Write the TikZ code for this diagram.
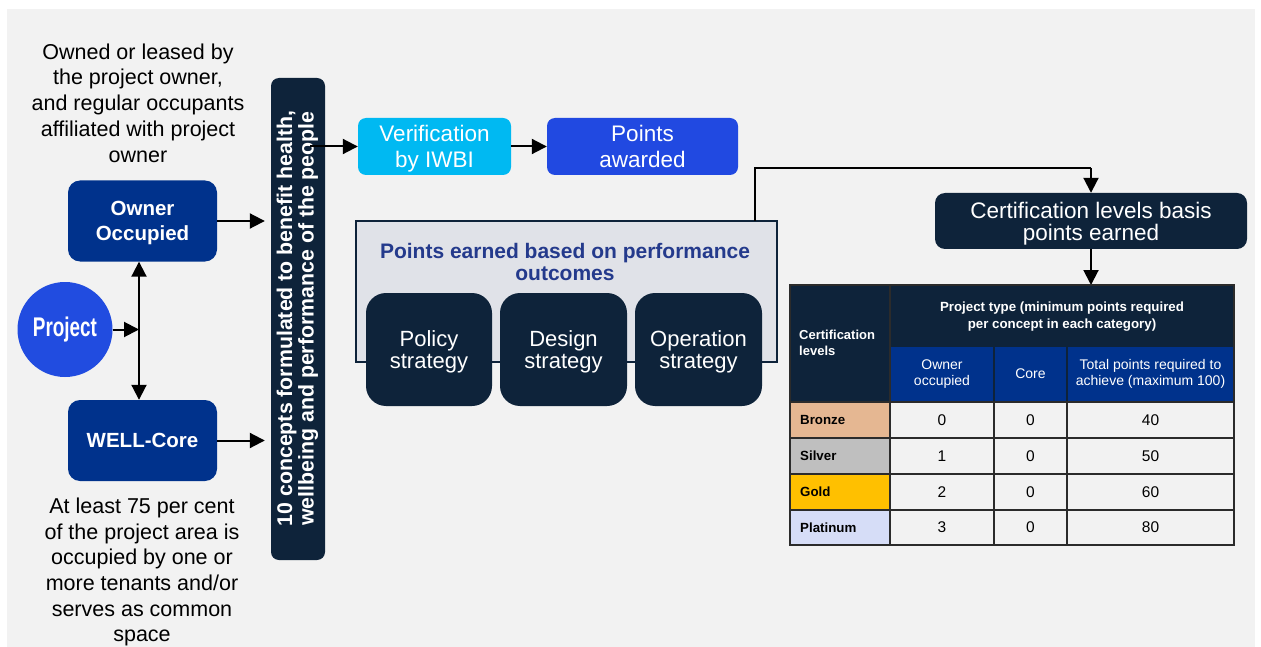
\documentclass[tikz,border=0pt]{standalone}
\usepackage{fontspec}
\setmainfont{Liberation Sans}
\usetikzlibrary{arrows.meta}
\definecolor{bggrey}{HTML}{F2F2F2}
\definecolor{navy}{HTML}{0E233A}
\definecolor{royal}{HTML}{00328C}
\definecolor{projblue}{HTML}{214CE0}
\definecolor{cyanbox}{HTML}{00B9F2}
\definecolor{pablue}{HTML}{2149E1}
\definecolor{pefill}{HTML}{E0E2E8}
\definecolor{petitle}{HTML}{243A8C}
\definecolor{bronze}{HTML}{E5B792}
\definecolor{silver}{HTML}{BFBFBF}
\definecolor{gold}{HTML}{FFC000}
\definecolor{platinum}{HTML}{D6DDF7}
\definecolor{gridc}{HTML}{2B2B2B}
\begin{document}
\begin{tikzpicture}[x=1pt,y=-1pt,
  tip/.tip={Triangle[length=15pt,width=15pt]},
  arr/.style={line width=2pt,-tip},
  plain/.style={align=center,inner sep=0pt,text=black,font=\fontsize{21.5}{25.7}\selectfont},
  bluebox/.style={fill=royal,rounded corners=12pt,align=center,inner sep=0pt,text=white,text depth=0pt,
     font=\fontsize{20.5}{25}\selectfont\bfseries,minimum width=149pt,minimum height=81pt},
  topbox/.style={rounded corners=8pt,align=center,inner sep=0pt,text=white,text depth=0pt,
     font=\fontsize{22.5}{26}\selectfont,minimum height=57pt},
  stratbox/.style={fill=navy,rounded corners=20pt,align=center,inner sep=0pt,text=white,text depth=0pt,
     font=\fontsize{22}{21.5}\selectfont,minimum height=113pt},
  th/.style={align=center,inner sep=0pt,text=white},
  td/.style={align=center,inner sep=0pt,text=black,font=\fontsize{15.5}{18}\selectfont},
  tl/.style={anchor=west,inner sep=0pt,text=black,font=\fontsize{13.3}{16}\selectfont\bfseries}
]
\useasboundingbox (0,0) rectangle (1261,647);
\fill[bggrey] (7,9) rectangle (1255,647);

% left column
\node[plain] (ownt) at (138,103) {Owned or leased by\\the project owner,\\and regular occupants\\affiliated with project\\owner};
\node[bluebox] (own) at (142.5,221) {Owner\\Occupied};
\node[bluebox] (core) at (142.5,440.5) {WELL-Core};
\node[circle,fill=projblue,minimum size=95pt,inner sep=0pt,text=white] (proj) at (65,329.5)
  {\fontsize{27}{28}\selectfont\bfseries\scalebox{0.7}[1]{Project}};
\node[plain] (coret) at (142,572) {At least 75 per cent\\of the project area is\\occupied by one or\\more tenants and/or\\serves as common\\space};

\coordinate (vj) at (139,329.5);
\draw[line width=2pt,tip-tip] (own.south -| vj) -- (core.north -| vj);
\draw[arr] (proj.east) -- (vj);

% vertical bar
\node[fill=navy,rounded corners=8pt,minimum width=54pt,minimum height=482pt,inner sep=0pt] (bar) at (298,319) {};
\node[rotate=90,align=center,inner sep=0pt,text=white,font=\fontsize{21.3}{21.5}\selectfont\bfseries] (bart) at (297.5,318.5)
  {10 concepts formulated to benefit health,\\wellbeing and performance of the people};
\draw[arr,shorten >=6pt] (own.east) -- (own.east -| bar.west);
\draw[arr,shorten >=6pt] (core.east) -- (core.east -| bar.west);

% top boxes
\node[topbox,fill=cyanbox,minimum width=153pt] (ver) at (434.5,146.5) {Verification\\by IWBI};
\node[topbox,fill=pablue,minimum width=191pt] (pa) at (642.5,146.5) {Points\\awarded};
\coordinate (bo) at (310,146.5);
\draw[arr] (bo) -- (ver.west);
\draw[arr] (ver.east) -- (pa.west);

% points earned box
\node[draw=navy,line width=2pt,fill=pefill,minimum width=421pt,minimum height=141pt,inner sep=0pt] (pe) at (566.5,291.5) {};
\node[align=center,inner sep=0pt,text=petitle,font=\fontsize{21}{22.5}\selectfont\bfseries] (pet) at (565,262)
  {Points earned based on performance\\outcomes};
\node[stratbox,minimum width=126pt] (pol) at (429,349.5) {Policy\\strategy};
\node[stratbox,minimum width=127pt] (des) at (563.5,349.5) {Design\\strategy};
\node[stratbox,minimum width=127pt] (ope) at (698.5,349.5) {Operation\\strategy};

% certification
\node[fill=navy,rounded corners=10pt,minimum width=312pt,minimum height=56pt,inner sep=0pt,align=center,text=white,
  text depth=0pt,font=\fontsize{22.5}{22}\selectfont] (cert) at (1091,221) {Certification levels basis\\points earned};
\coordinate (peo) at (755,221);
\coordinate (bend) at (1091,168);
\draw[line width=2pt] (peo) |- (bend);
\draw[arr] (bend) -- (cert.north);
\coordinate (tabtop) at (1091,285);
\draw[arr] (cert.south) -- (tabtop);

% table
\fill[navy] (790,285) rectangle (890,402);
\fill[navy] (890,285) rectangle (1234,346);
\fill[royal] (890,346) rectangle (1234,402);
\fill[bronze] (790,402) rectangle (890,438);
\fill[silver] (790,438) rectangle (890,474);
\fill[gold] (790,474) rectangle (890,510);
\fill[platinum] (790,510) rectangle (890,545);
\draw[navy,line width=1.5pt] (994,346) -- (994,402) (1067,346) -- (1067,402) (890,346) -- (1234,346);
\draw[gridc,line width=1.5pt] (790,285) rectangle (1234,545);
\draw[gridc,line width=1.5pt] (890,285) -- (890,545) (994,402) -- (994,545) (1067,402) -- (1067,545);
\draw[gridc,line width=1.5pt] (790,402) -- (1234,402) (790,438) -- (1234,438) (790,474) -- (1234,474) (790,510) -- (1234,510);

\node[th,anchor=west,align=left,font=\fontsize{13}{16.5}\selectfont\bfseries] (h1) at (799,343) {Certification\\levels};
\node[th,font=\fontsize{13.3}{16.3}\selectfont\bfseries] (h2) at (1062,316.5) {Project type (minimum points required\\per concept in each category)};
\node[th,font=\fontsize{14}{15.7}\selectfont] (h3) at (942,374) {Owner\\occupied};
\node[th,font=\fontsize{14}{15.7}\selectfont] (h4) at (1030.5,374) {Core};
\node[th,font=\fontsize{14}{15.7}\selectfont] (h5) at (1150.5,374) {Total points required to\\achieve (maximum 100)};

\node[tl] (r1) at (800,420) {Bronze};
\node[tl] (r2) at (800,456) {Silver};
\node[tl] (r3) at (800,492) {Gold};
\node[tl] (r4) at (800,527.5) {Platinum};
\node[td] (a1) at (942,420) {0};
\node[td] (b1) at (1030.5,420) {0};
\node[td] (c1) at (1150.5,420) {40};
\node[td] (a2) at (942,456) {1};
\node[td] (b2) at (1030.5,456) {0};
\node[td] (c2) at (1150.5,456) {50};
\node[td] (a3) at (942,492) {2};
\node[td] (b3) at (1030.5,492) {0};
\node[td] (c3) at (1150.5,492) {60};
\node[td] (a4) at (942,527.5) {3};
\node[td] (b4) at (1030.5,527.5) {0};
\node[td] (c4) at (1150.5,527.5) {80};
\end{tikzpicture}
\end{document}
